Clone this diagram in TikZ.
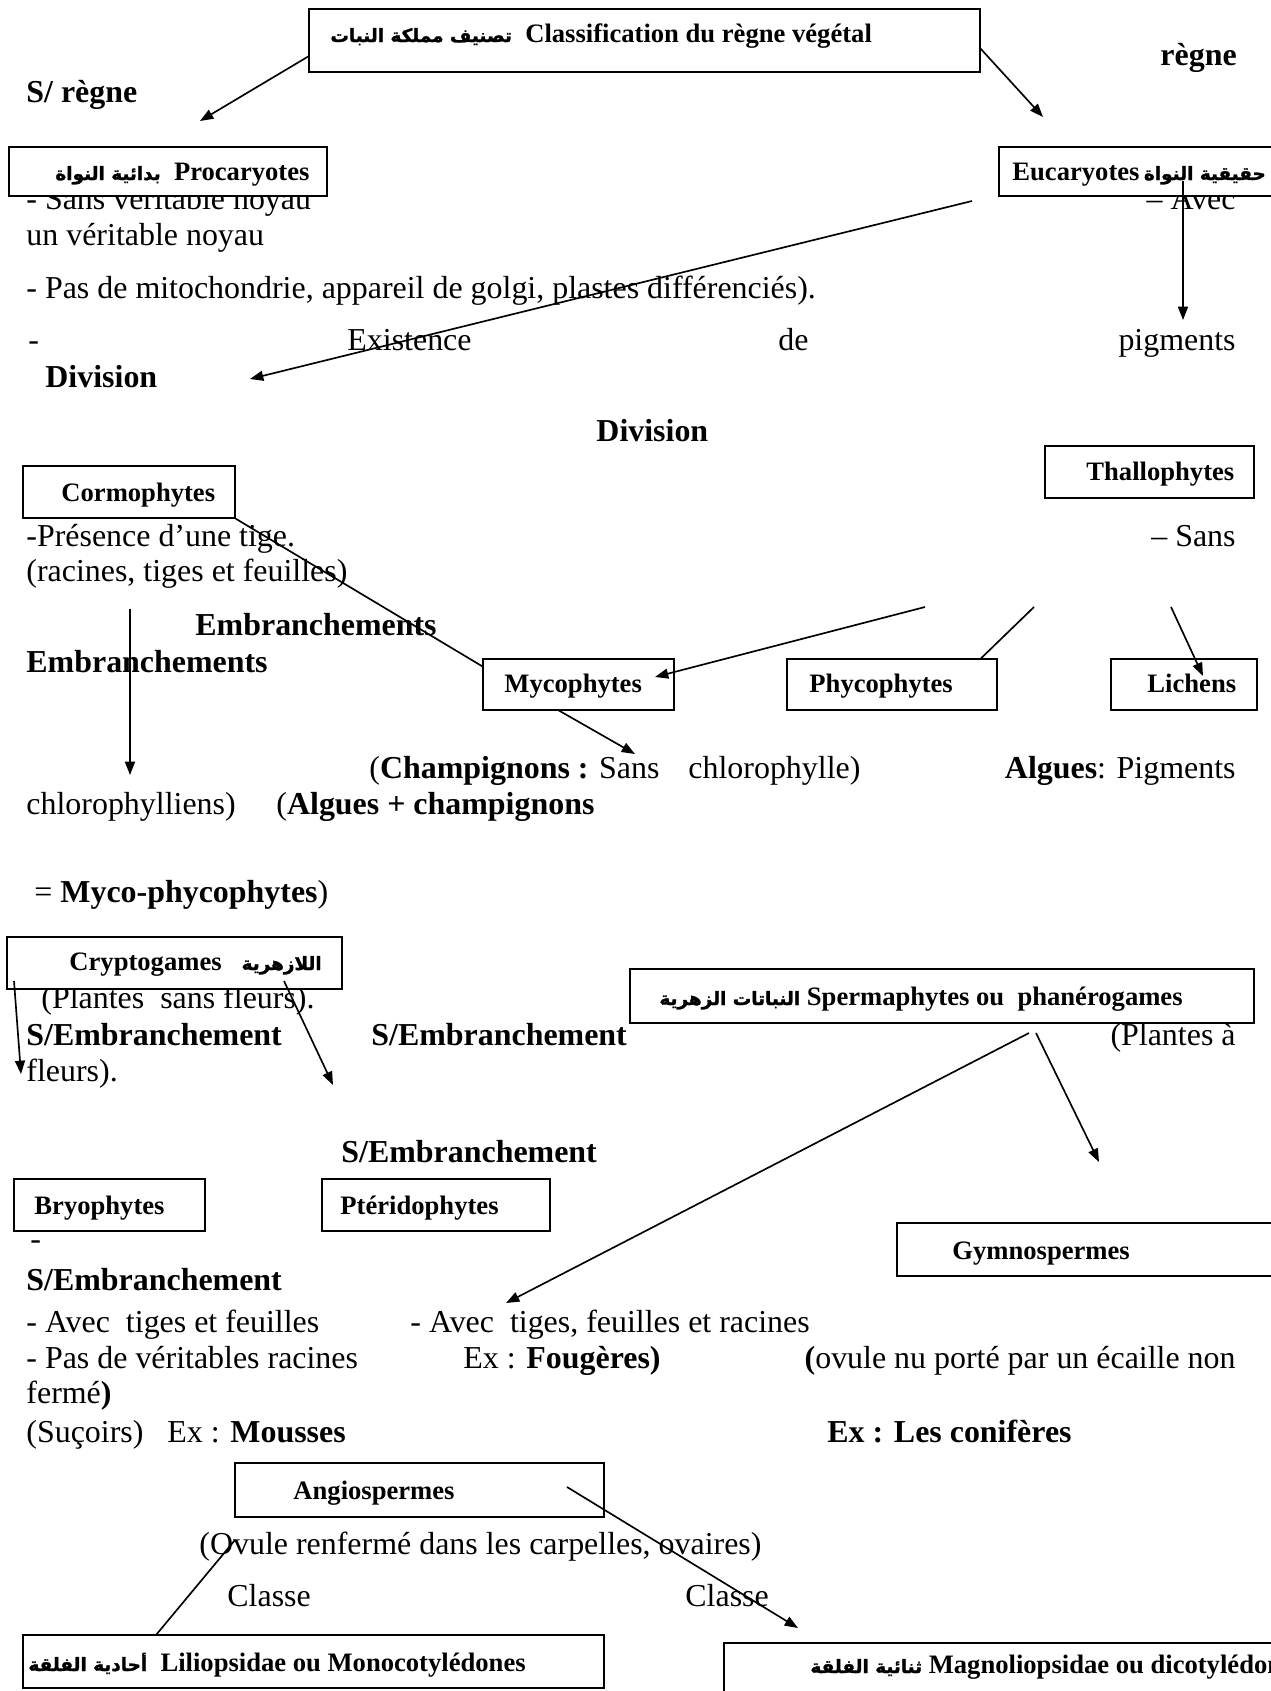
\documentclass[tikz,border=0pt]{standalone}
\usepackage{fontspec}
\setmainfont{Liberation Serif}
\newfontfamily\arabicfont[Script=Arabic,FakeBold=1.5]{DejaVu Sans}
\TeXXeTstate=1
\usepackage{tikz}
\usetikzlibrary{positioning, arrows.meta, calc, fit}

\newcommand{\artxt}[1]{{\arabicfont\fontsize{8.3}{10}\selectfont\beginR #1\endR}}

\tikzset{
	box/.style={draw=black, line width=0.6pt, fill=white, inner sep=0pt},
	txt/.style={anchor=base west, inner sep=0pt, font=\fontsize{14.4}{17}\selectfont},
	txtr/.style={anchor=base east, inner sep=0pt, font=\fontsize{14.4}{17}\selectfont},
	btxt/.style={anchor=base west, inner sep=0pt, font=\fontsize{14.4}{17}\selectfont\bfseries},
	lbl/.style={anchor=base west, inner sep=0pt, font=\fontsize{12}{14}\selectfont\bfseries},
	arr/.style={-{Triangle[length=6pt,width=4.5pt]}, line width=0.75pt},
	lin/.style={line width=0.75pt}
}

\begin{document}
\begin{tikzpicture}[x=0.451pt, y=-0.451pt]
			
			\useasboundingbox (0,0) rectangle (1271,1691);
			\clip (0,0) rectangle (1271,1691);
			
			% Free text
			
			\node[btxt] (regne) at (1160,65) {règne};
			\node[btxt] (sregne) at (26,102) {S/ règne};
			
			\node[txt] (proc1) at (26,209) {- Sans véritable noyau};
			\node[txtr] (euc1) at (1236,209) {– Avec};
			\node[txt] (proc2) at (26,245) {un véritable noyau};
			\node[txt] (proc3) at (26,298) {- Pas de mitochondrie, appareil de golgi, plastes différenciés).};
			\node[txt] (proc4) at (28,350) {-};
			\node[txt] (proc5) at (347,350) {Existence};
			\node[txt] (proc6) at (778,350) {de};
			\node[txtr] (proc7) at (1236,350) {pigments};
			
			\node[btxt] (div1) at (45,387) {Division};
			\node[btxt] (div2) at (596,441) {Division};
			
			\node[txt] (cormo1) at (26,546) {-Présence d’une tige.};
			\node[txtr] (thallo1) at (1236,546) {– Sans};
			\node[txt] (cormo2) at (26,581) {(racines, tiges et feuilles)};
			
			\node[btxt] (embr1) at (195,635) {Embranchements};
			\node[btxt] (embr2) at (26,672) {Embranchements};
			
			\node[txt] (myco1) at (369,778) {(\textbf{Champignons :} Sans};
			\node[txt] (myco2) at (688,778) {chlorophylle)};
			\node[txtr] (phyco1) at (1236,778) {\textbf{Algues}: Pigments};
			\node[txt] (phyco2) at (26,814) {chlorophylliens)};
			\node[txt] (lich1) at (276,814) {(\textbf{Algues + champignons}};
			\node[txt] (lich2) at (34,902) {= \textbf{Myco-phycophytes})};
			
			\node[txt] (crypto1) at (41,1008) {(Plantes\ \ sans fleurs).};
			\node[btxt] (sembr1) at (26,1045) {S/Embranchement};
			\node[btxt] (sembr2) at (371,1045) {S/Embranchement};
			\node[txtr] (sperma1) at (1236,1045) {(Plantes à};
			\node[txt] (crypto2) at (26,1081) {fleurs).};
			\node[btxt] (sembr3) at (341,1162) {S/Embranchement};
			
			\node[txt] (bryo1) at (30,1249) {-};
			\node[btxt] (sembr4) at (26,1290) {S/Embranchement};
			\node[txt] (bryo2) at (26,1332) {- Avec\ \ tiges et feuilles};
			\node[txt] (pter1) at (410,1332) {- Avec\ \ tiges, feuilles et racines};
			\node[txt] (bryo3) at (26,1368) {- Pas de véritables racines};
			\node[txt] (pter2) at (463,1368) {Ex : \textbf{Fougères)}};
			\node[txtr] (gymno1) at (1236,1368) {\textbf{(}ovule nu porté par un écaille non};
			\node[txt] (gymno2) at (26,1403) {fermé\textbf{)}};
			\node[txt] (bryo4) at (26,1442) {(Suçoirs)\ \ \ Ex : \textbf{Mousses}};
			\node[btxt] (gymno3) at (827,1442) {Ex : Les conifères};
			
			\node[txt] (angio1) at (199,1554) {(Ovule renfermé dans les carpelles, ovaires)};
			\node[txt] (classe1) at (227,1606) {Classe};
			\node[txt] (classe2) at (685,1606) {Classe};
			
			
			% Boxes
			
			\node[box, fit={(309,9) (980,72)}] (regne0) {};
			\node[box, fit={(9,147) (327,196)}] (procar) {};
			\node[box, fit={(999,147) (1300,196)}] (eucar) {};
			\node[box, fit={(1045,446) (1254,498)}] (thallo) {};
			\node[box, fit={(23,466) (235,518)}] (cormo) {};
			\node[box, fit={(483,659) (674,710)}] (myco) {};
			\node[box, fit={(787,659) (997,710)}] (phyco) {};
			\node[box, fit={(1111,659) (1257,710)}] (lichens) {};
			\node[box, fit={(7,937) (342,989)}] (crypto) {};
			\node[box, fit={(630,969) (1254,1023)}] (sperma) {};
			\node[box, fit={(14,1179) (205,1231)}] (bryo) {};
			\node[box, fit={(322,1179) (550,1231)}] (pterido) {};
			\node[box, fit={(897,1223) (1300,1276)}] (gymno) {};
			\node[box, fit={(235,1463) (604,1517)}] (angio) {};
			\node[box, fit={(23,1635) (604,1688)}] (lilio) {};
			\node[box, fit={(724,1643) (1300,1720)}] (magno) {};
			
			\node[lbl] (regneT) at (330,42) {\artxt{تصنيف مملكة النبات}\ \ Classification du règne végétal};
			\node[lbl] (procarT) at (55,180) {\artxt{بدائية النواة}\ \ Procaryotes};
			\node[lbl] (eucarT) at (1012,180) {Eucaryotes\,\artxt{حقيقية النواة}};
			\node[lbl] (thalloT) at (1086,480) {Thallophytes};
			\node[lbl] (cormoT) at (61,501) {Cormophytes};
			\node[lbl] (mycoT) at (504,692) {Mycophytes};
			\node[lbl] (phycoT) at (809,692) {Phycophytes};
			\node[lbl] (lichensT) at (1147,692) {Lichens};
			\node[lbl] (cryptoT) at (69,970) {Cryptogames\ \ \ \artxt{اللازهرية}};
			\node[lbl] (spermaT) at (659,1005) {\artxt{النباتات الزهرية} Spermaphytes ou\ \ phanérogames};
			\node[lbl] (bryoT) at (34,1214) {Bryophytes};
			\node[lbl] (pteridoT) at (340,1214) {Ptéridophytes};
			\node[lbl] (gymnoT) at (952,1259) {Gymnospermes};
			\node[lbl] (angioT) at (293,1499) {Angiospermes};
			\node[lbl] (lilioT) at (28,1671) {\artxt{أحادية الفلقة}\ \ Liliopsidae ou Monocotylédones};
			\node[lbl] (magnoT) at (810,1673) {\artxt{ثنائية الفلقة} Magnoliopsidae ou dicotylédones};
			
			
			% Connections
			
			\coordinate (c1s) at (309,56);
			\coordinate (c1e) at (200,121);
			\coordinate (c2s) at (980,48);
			\coordinate (c2e) at (1043,117);
			\coordinate (c3s) at (1183,181);
			\coordinate (c3e) at (1183,320);
			\coordinate (c4s) at (972,201);
			\coordinate (c4e) at (250,379);
			\coordinate (c6s) at (130,609);
			\coordinate (c6e) at (130,775);
			\coordinate (c7s) at (925,607);
			\coordinate (c7e) at (655,677);
			\coordinate (c8s) at (1034,607);
			\coordinate (c9s) at (1171,607);
			\coordinate (c9e) at (1203,676);
			\coordinate (c10s) at (558,710);
			\coordinate (c10e) at (635,754);
			\coordinate (c11s) at (14,981);
			\coordinate (c11e) at (21,1074);
			\coordinate (c12s) at (284,981);
			\coordinate (c12e) at (333,1085);
			\coordinate (c13s) at (1029,1033);
			\coordinate (c13e) at (506,1303);
			\coordinate (c14s) at (1036,1033);
			\coordinate (c14e) at (1099,1162);
			\coordinate (c15s) at (156,1635);
			\coordinate (c15e) at (235,1540);
			\coordinate (c16s) at (567,1487);
			\coordinate (c16e) at (798,1628);
			
			\draw[arr] (c1s) -- (c1e);
			\draw[arr] (c2s) -- (c2e);
			\draw[arr] (c3s) -- (c3e);
			\draw[arr] (c4s) -- (c4e);
			
			\draw[lin] (cormo.south east) -- ($(myco.north west) + (0,8)$);
			\draw[arr] (c6s) -- (c6e);
			\draw[arr] (c7s) -- (c7e);
			\draw[lin] (c8s) -- (phyco.north -| 981,0);
			\draw[arr] (c9s) -- (c9e);
			\draw[arr] (c10s) -- (c10e);
			
			\draw[arr] (c11s) -- (c11e);
			\draw[arr] (c12s) -- (c12e);
			\draw[arr] (c13s) -- (c13e);
			\draw[arr] (c14s) -- (c14e);
			
			\draw[lin] (c15s) -- (c15e);
			\draw[arr] (c16s) -- (c16e);
			
\end{tikzpicture}
\end{document}
